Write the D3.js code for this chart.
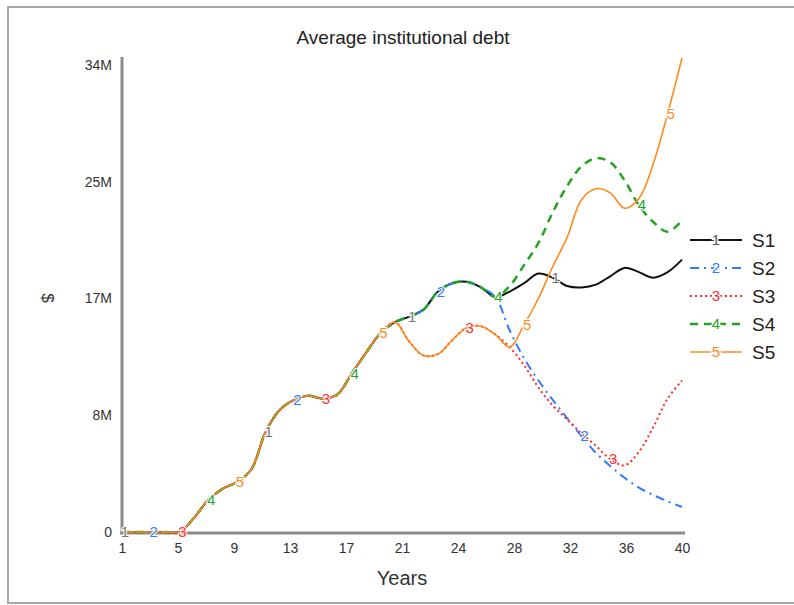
<!DOCTYPE html>
<html>
<head>
<meta charset="utf-8">
<script src="https://cdn.jsdelivr.net/npm/d3@7"></script>
<style>
  html, body { margin: 0; padding: 0; background: #fff; }
  svg { display: block; font-family: "Liberation Sans", Arial, sans-serif; }
</style>
</head>
<body>
<svg id="chart" width="794" height="605"></svg>
<script>
// ---------- data ----------
const years = d3.range(1, 41);
const seriesNames = ["S1", "S2", "S3", "S4", "S5"];
const seriesLabels = ["1", "2", "3", "4", "5"];
// values in millions of dollars
const s1 = [0,0,0,0,0,1.0,2.3,3.1,3.6,4.5,7.2,8.8,9.5,9.8,9.6,9.9,11.4,12.9,14.3,15.1,
            15.5,16.0,17.3,17.9,18.0,17.6,16.9,17.3,17.9,18.6,18.3,17.7,17.6,17.8,18.4,19.0,18.7,18.3,18.7,19.6];
const s2 = [0,0,0,0,0,1.0,2.3,3.1,3.6,4.5,7.2,8.8,9.5,9.8,9.6,9.9,11.4,12.9,14.3,15.1,
            15.5,16.0,17.3,17.9,18.0,17.6,16.9,14.5,12.5,10.9,9.5,8.2,6.9,5.7,4.75,3.9,3.2,2.66,2.2,1.8];
const s3 = [0,0,0,0,0,1.0,2.3,3.1,3.6,4.5,7.2,8.8,9.5,9.8,9.6,9.9,11.4,12.9,14.3,15.1,
            13.7,12.7,12.8,13.8,14.7,14.8,14.2,13.3,12.0,10.4,9.1,8.1,7.1,6.2,5.25,4.8,5.76,7.55,9.6,10.9];
const s4 = [0,0,0,0,0,1.0,2.3,3.1,3.6,4.5,7.2,8.8,9.5,9.8,9.6,9.9,11.4,12.9,14.3,15.1,
            15.5,16.0,17.3,17.9,18.0,17.6,16.9,17.7,19.2,20.8,23.0,24.9,26.3,26.9,26.6,25.3,23.5,22.3,21.6,22.4];
const s5 = [0,0,0,0,0,1.0,2.3,3.1,3.6,4.5,7.2,8.8,9.5,9.8,9.6,9.9,11.4,12.9,14.3,15.1,
            13.7,12.7,12.8,13.8,14.7,14.8,14.2,13.3,14.9,16.8,19.1,21.2,23.9,24.7,24.4,23.3,24.0,26.5,30.1,34.1];
const seriesValues = [s1, s2, s3, s4, s5];

const xTickValues = [1, 4.9, 8.8, 12.7, 16.6, 20.5, 24.4, 28.3, 32.2, 36.1, 40];
const xTickLabels = ["1", "5", "9", "13", "17", "21", "24", "28", "32", "36", "40"];
const yTickValues = [0, 8.4, 16.8, 25.2, 33.6];
const yTickLabels = ["0", "8M", "17M", "25M", "34M"];

// ---------- styles ----------
const colors = ["#111111", "#2f7bff", "#ff2b2b", "#1fa51f", "#ff8a1c"];
const labelColors = ["#777777", "#2f7bff", "#ff2b2b", "#1fa51f", "#ff8a1c"];
const dashes = [null, "9,5,2,5", "2,3", "8,6", null];
const widths = [2, 2, 2, 2.5, 1.6];

const svg = d3.select("#chart");

// frame
svg.append("rect").attr("x", 8).attr("y", 7).attr("width", 800).attr("height", 596)
  .attr("fill", "none").attr("stroke", "#a8a8a8").attr("stroke-width", 2);

const x = d3.scaleLinear().domain([1, 40]).range([122, 682]);
const y = d3.scaleLinear().domain([0, 33.6]).range([532, 65]);

// title
svg.append("text").attr("x", 403).attr("y", 44).attr("text-anchor", "middle")
  .attr("font-size", 19).attr("fill", "#222").text("Average institutional debt");

// y axis
const yAxis = d3.axisLeft(y).tickValues(yTickValues).tickSize(0).tickPadding(10)
  .tickFormat((d, i) => yTickLabels[i]);
const gy = svg.append("g").attr("transform", "translate(122,0)").call(yAxis);
gy.select(".domain").remove();
gy.selectAll("text").attr("font-size", 14).attr("fill", "#333")
  .attr("font-family", "Liberation Sans, Arial, sans-serif");
svg.append("line").attr("x1", 122).attr("x2", 122).attr("y1", 57).attr("y2", 534)
  .attr("stroke", "#8a8a8a").attr("stroke-width", 3);

// x axis
const xAxis = d3.axisBottom(x).tickValues(xTickValues).tickSize(0).tickPadding(10)
  .tickFormat((d, i) => xTickLabels[i]);
const gx = svg.append("g").attr("transform", "translate(0,533)").call(xAxis);
gx.select(".domain").remove();
gx.selectAll("text").attr("font-size", 14).attr("fill", "#333")
  .attr("font-family", "Liberation Sans, Arial, sans-serif");
svg.append("line").attr("x1", 120).attr("x2", 685).attr("y1", 533).attr("y2", 533)
  .attr("stroke", "#8a8a8a").attr("stroke-width", 3);

// axis titles
svg.append("text").attr("x", 402).attr("y", 585).attr("text-anchor", "middle")
  .attr("font-size", 20).attr("fill", "#333").text("Years");
svg.append("text").attr("transform", "translate(42,298) rotate(90)").attr("text-anchor", "middle")
  .attr("font-size", 17).attr("fill", "#333").text("$");

// lines
const line = d3.line().x((d, i) => x(years[i])).y(d => y(d)).curve(d3.curveCatmullRom.alpha(0.5));
const gLines = svg.append("g");
seriesValues.forEach((vals, k) => {
  gLines.append("path").datum(vals).attr("d", line).attr("fill", "none")
    .attr("stroke", colors[k]).attr("stroke-width", widths[k])
    .attr("stroke-dasharray", dashes[k]).attr("stroke-linejoin", "round");
});

// point labels (every 10th point, offset by series)
const gLab = svg.append("g");
seriesValues.forEach((vals, k) => {
  vals.forEach((v, i) => {
    if (i % 10 === 2 * k) {
      gLab.append("text").attr("x", x(years[i]) + 3).attr("y", y(v) + 5)
        .attr("text-anchor", "middle").attr("font-size", 15)
        .attr("fill", labelColors[k]).attr("stroke", "#fff").attr("stroke-width", 2)
        .attr("paint-order", "stroke").text(seriesLabels[k]);
    }
  });
});

// legend
const lg = svg.append("g");
seriesNames.forEach((name, k) => {
  const yy = 240 + k * 28;
  lg.append("line").attr("x1", 690).attr("x2", 742).attr("y1", yy).attr("y2", yy)
    .attr("stroke", colors[k]).attr("stroke-width", widths[k])
    .attr("stroke-dasharray", dashes[k]);
  lg.append("text").attr("x", 716).attr("y", yy + 5).attr("text-anchor", "middle")
    .attr("font-size", 15).attr("fill", k === 0 ? "#555" : labelColors[k])
    .attr("stroke", "#fff").attr("stroke-width", 3).attr("paint-order", "stroke")
    .text(seriesLabels[k]);
  lg.append("text").attr("x", 752).attr("y", yy + 7).attr("font-size", 19)
    .attr("fill", "#222").text(name);
});
</script>
</body>
</html>
